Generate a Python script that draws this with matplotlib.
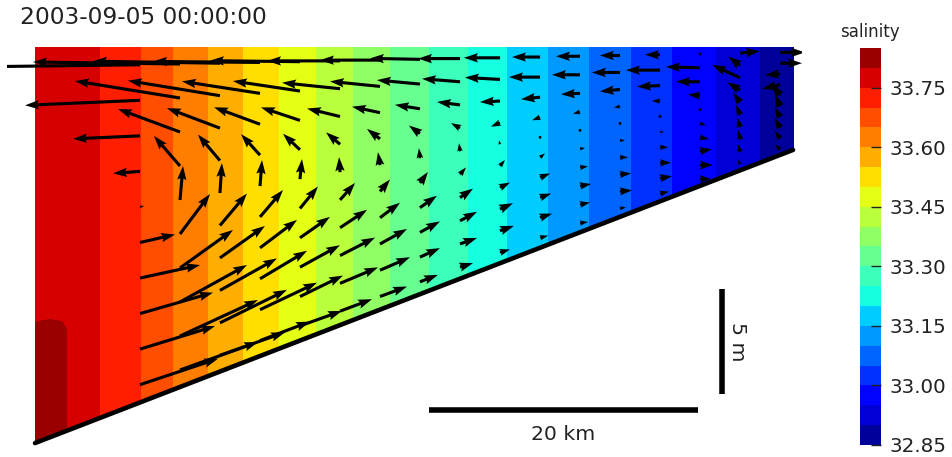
import numpy as np
import matplotlib
matplotlib.use("Agg")
import matplotlib.pyplot as plt

plt.rcParams['font.family'] = ['DejaVu Sans']

# ---------------- data ----------------
title_text = "2003-09-05 00:00:00"
cbar_title = "salinity"

# salinity read along the section (km from the left edge): near surface and near bottom
sal_x_km = [0.0, 1.12, 2.01, 2.45, 4.83, 7.81, 10.26, 12.86, 15.46, 18.07, 20.82, 23.57,
            26.39, 29.22, 32.19, 35.09, 38.14, 41.12, 44.24, 47.36, 50.56, 53.90, 56.36]
sal_upper = [33.790, 33.789, 33.786, 33.783, 33.75, 33.70, 33.65, 33.60, 33.55, 33.50, 33.45,
             33.40, 33.35, 33.30, 33.25, 33.20, 33.15, 33.10, 33.05, 33.00, 32.95, 32.90, 32.87]
sal_lower = [33.830, 33.825, 33.812, 33.797, 33.75, 33.70, 33.65, 33.60, 33.55, 33.50, 33.45,
             33.40, 33.35, 33.30, 33.25, 33.20, 33.15, 33.10, 33.05, 33.00, 32.95, 32.90, 32.87]
sal_sigma = [0.0, 0.68, 0.74, 1.0]          # upper profile above 0.68, lower below 0.74

# bathymetry (linear slope)
depth_x_km = [0.0, 56.36]
depth_m = [18.86, 4.90]

levels = np.round(np.linspace(32.85, 33.85, 21), 2)
cbar_ticks = [32.85, 33.00, 33.15, 33.30, 33.45, 33.60, 33.75]

# velocity arrows on the model grid (10 sigma levels x 17 columns)
arrow_x_km = [7.81, 10.78, 13.75, 16.73, 19.70, 22.68, 25.65, 28.62, 31.60,
              34.57, 37.55, 40.52, 43.49, 46.47, 49.44, 52.42, 55.39]
arrow_sigma = [0.05, 0.15, 0.25, 0.35, 0.45, 0.55, 0.65, 0.75, 0.85, 0.95]

u_vel = [
    [-160, -147, -127, -107, -90, -73, -60, -50, -42, -36, -28, -24, -20, -15, -3, 20, 25],
    [-115, -105, -92, -78, -67, -58, -50, -43, -38, -35, -31, -28, -28, -34, -34, -12, 22],
    [-67, -62, -53, -46, -39, -33, -28, -25, -23, -20, -19, -19, -20, -23, -24, -28, -15],
    [-27, -26, -22, -19, -17, -14, -13, -11, -9, -9, -8, -7, -6, -8, -12, -13, -18],
    [4, 3, 2, 2, 2, -1, -2, -1, -1, -1, 0, 1, 2, 1, 1, -7, -8],
    [35, 30, 27, 23, 18, 15, 10, 8, 6, 5, 5, 5, 5, 4, 6, -4, -5],
    [60, 53, 45, 37, 30, 27, 20, 17, 13, 10, 10, 8, 8, 8, 9, -3, -5],
    [73, 67, 57, 47, 40, 35, 27, 20, 17, 13, 11, 11, 11, 11, 12, -2, -5],
    [75, 78, 67, 57, 43, 38, 30, 20, 17, 14, 12, 10, 12, 12, 13, -2, -5],
    [78, 78, 65, 50, 42, 32, 27, 18, 13, 10, 8, 8, 6, 9, 11, -2, -5],
]
w_vel = [
    [-2, 2, 2, 1, 1, 0, 0, 1, 0, 0, 0, 0, 0, 0, 0, 2, 0],
    [-5, 17, 15, 12, 10, 6, 5, 4, 3, 2, 0, 0, 0, 0, 1, 9, 0],
    [-3, 23, 20, 17, 13, 8, 6, 4, 3, -1, -2, -1, -2, -1, 0, 13, -1],
    [-2, 30, 26, 21, 16, 12, 10, 8, 5, -4, -3, -2, -1, 0, 1, 8, -4],
    [1, 34, 30, 26, 20, 15, 13, 10, 8, 4, 3, 0, 0, 0, 0, 10, 12],
    [8, 40, 32, 27, 22, 17, 12, 11, 7, 6, 4, 1, 0, 0, -2, 10, 12],
    [13, 38, 32, 28, 21, 18, 15, 12, 9, 5, 4, 1, 0, 0, -2, 10, 10],
    [21, 37, 32, 28, 22, 18, 15, 11, 9, 6, 4, 2, 1, 0, 2, 10, 10],
    [23, 36, 33, 27, 21, 16, 13, 9, 6, 5, 4, 2, 1, 2, 0, 8, 8],
    [26, 28, 23, 19, 15, 12, 10, 7, 4, 3, 2, 1, 1, 2, 0, 5, 5],
]

scale_bar_km = 20
scale_bar_m = 5

# ---------------- layout ----------------
W, H, DPI = 952, 457, 100
fig = plt.figure(figsize=(W / DPI, H / DPI), dpi=DPI)


def px_axes(x0, y0, x1, y1):
    return fig.add_axes([x0 / W, 1 - y1 / H, (x1 - x0) / W, (y1 - y0) / H])


px_per_km = 13.45
px_per_m = 21.0
dom_left_px, dom_top_px = 35, 47
ax_l, ax_t, ax_r, ax_b = 7, 5, 802, 452
ax = px_axes(ax_l, ax_t, ax_r, ax_b)
ax.set_xlim((ax_l - dom_left_px) / px_per_km, (ax_r - dom_left_px) / px_per_km)
ax.set_ylim(-(ax_b - dom_top_px) / px_per_m, (dom_top_px - ax_t) / px_per_m)
ax.axis('off')


def depth_at(x):
    return np.interp(x, depth_x_km, depth_m)


# salinity field on a (sigma, x) mesh
sx = np.array(sal_x_km)
sig = np.array(sal_sigma)
SX, SS = np.meshgrid(sx, sig)
SZ = -SS * depth_at(SX)
SAL = np.vstack([sal_upper, sal_upper, sal_lower, sal_lower])

cf = ax.contourf(SX, SZ, SAL, levels=levels, cmap='jet', zorder=1)

# arrows
AX, AS = np.meshgrid(np.array(arrow_x_km), np.array(arrow_sigma))
AZ = -AS * depth_at(AX)
ax.quiver(AX, AZ, np.array(u_vel, float), np.array(w_vel, float),
          angles='uv', scale_units='dots', scale=1.0, units='dots',
          width=3.1, headwidth=3, headlength=4.5, headaxislength=4.0,
          color='black', zorder=3)

# bottom line
bx = np.array(depth_x_km)
ax.plot(bx, -depth_at(bx), color='black', lw=3.3, solid_capstyle='round', zorder=4)

# scale bars
bar_x0 = (429 - dom_left_px) / px_per_km
bar_y = -(410 - dom_top_px) / px_per_m
ax.plot([bar_x0, bar_x0 + scale_bar_km], [bar_y, bar_y], color='black', lw=4,
        solid_capstyle='butt', zorder=4)
ax.text(bar_x0 + scale_bar_km / 2, -(435 - dom_top_px) / px_per_m, f"{scale_bar_km} km",
        ha='center', va='center', fontsize=14.7, color='#222222')

vbar_x = (722 - dom_left_px) / px_per_km
vbar_y0 = -(289 - dom_top_px) / px_per_m
ax.plot([vbar_x, vbar_x], [vbar_y0, vbar_y0 - scale_bar_m], color='black', lw=4,
        solid_capstyle='butt', zorder=4)
ax.text((737 - dom_left_px) / px_per_km, vbar_y0 - scale_bar_m / 2, f"{scale_bar_m} m",
        ha='center', va='center', rotation=-90, fontsize=14.7, color='#222222')

# title
fig.text(20 / W, 1 - 18 / H, title_text, ha='left', va='center', fontsize=16.8,
         color='#222222')

# colorbar
cax = px_axes(860, 48, 881, 445)
cb = fig.colorbar(cf, cax=cax, ticks=cbar_ticks)
cb.outline.set_visible(False)
cb.ax.set_yticklabels([f"{t:.2f}" for t in cbar_ticks])
cb.ax.tick_params(direction='in', length=7, width=1, colors='#222222',
                  labelsize=14.3, pad=6)
cb.ax.minorticks_off()
fig.text(870 / W, 1 - 32 / H, cbar_title, ha='center', va='center', fontsize=12,
         color='#222222')

fig.savefig("out.png", dpi=DPI)
